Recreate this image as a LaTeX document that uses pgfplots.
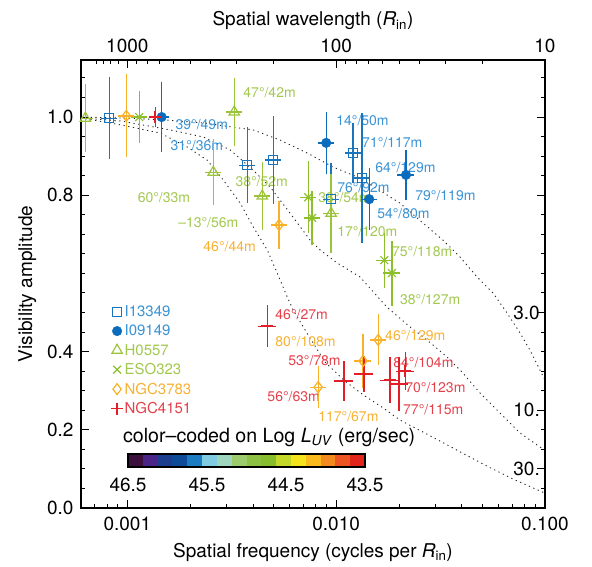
\documentclass[border=0pt]{standalone}
\usepackage{fontspec}
\setmainfont{TeX Gyre Heros}
\usepackage{pgfplots}
\pgfplotsset{compat=1.18}

\definecolor{cI}{HTML}{1B75BC}
\definecolor{cII}{HTML}{0B6CBE}
\definecolor{cH}{HTML}{9CC43B}
\definecolor{cE}{HTML}{8CBF2A}
\definecolor{cN}{HTML}{F8B128}
\definecolor{cR}{HTML}{E41E26}
\definecolor{lB}{HTML}{3A93D5}
\definecolor{lG}{HTML}{A2C84F}
\definecolor{lN}{HTML}{F8B133}
\definecolor{lR}{HTML}{E5404A}
\definecolor{cb1}{HTML}{3C0F3C}
\definecolor{cb2}{HTML}{4A2486}
\definecolor{cb3}{HTML}{1B3F8E}
\definecolor{cb4}{HTML}{0D4A98}
\definecolor{cb5}{HTML}{1C7CC2}
\definecolor{cb6}{HTML}{7FCBE2}
\definecolor{cb7}{HTML}{9FD5BC}
\definecolor{cb8}{HTML}{9CCB6E}
\definecolor{cb9}{HTML}{8DC144}
\definecolor{cb10}{HTML}{86BD2D}
\definecolor{cb11}{HTML}{C4D82A}
\definecolor{cb12}{HTML}{F5E31C}
\definecolor{cb13}{HTML}{F9BA1E}
\definecolor{cb14}{HTML}{F38A1F}
\definecolor{cb15}{HTML}{EB5623}
\definecolor{cb16}{HTML}{E1251D}

\newcommand{\bigf}{\fontsize{19}{21}\selectfont}
\newcommand{\lab}{\fontsize{14}{15}\selectfont}

\pgfplotsset{
  errs/.style={error bars/.cd, x dir=both, x explicit relative,
    y dir=both, y explicit, error mark=none,
    error bar style={line width=1.3pt}},
  model/.style={forget plot, no marks, black!85, line width=0.9pt,
    dash pattern=on 1.2pt off 3.6pt},
}

\begin{document}
\begin{tikzpicture}
\begin{axis}[
  name=main,
  scale only axis, width=464pt, height=448pt,
  xmode=log, xmin=6e-4, xmax=0.1, ymin=0, ymax=1.146,
  xtick={0.001,0.01,0.1}, xticklabels={0.001,0.010,0.100},
  minor xtick={0.0007,0.0008,0.0009,0.002,0.003,0.004,0.005,0.006,0.007,0.008,0.009,
    0.02,0.03,0.04,0.05,0.06,0.07,0.08,0.09},
  ytick={0,0.2,0.4,0.8,1.0}, yticklabels={0.0,0.2,0.4,0.8,1.0},
  minor ytick={0.05,0.1,0.15,0.25,0.3,0.35,0.45,0.5,0.55,0.6,0.65,0.7,0.75,0.85,0.9,0.95,1.05,1.1},
  xtick pos=left, ytick pos=left, tick align=inside,
  major tick length=8pt, minor tick length=4pt,
  every tick/.style={black, line width=1pt},
  axis line style={line width=1.2pt},
  ticklabel style={font=\bigf},
  xticklabel style={yshift=-5pt},
  yticklabel style={xshift=-4pt},
  xlabel={Spatial frequency (cycles per \textit{R}\textsubscript{in})},
  ylabel={Visibility amplitude},
  label style={font=\bigf},
  xlabel style={yshift=-6pt},
  ylabel style={yshift=4pt},
  legend style={at={(0.058,0.46)}, anchor=north west, draw=none, fill=none,
    font=\fontsize{15}{16}\selectfont, row sep=3.8pt,
    nodes={inner sep=1.5pt}},
  legend cell align=left,
]
% model curves
\addplot[model] coordinates {(0.0006,1.0) (0.00103,0.997) (0.00149,0.993) (0.00231,0.985)
  (0.00401,0.967) (0.0054,0.941) (0.00727,0.908) (0.00968,0.872) (0.013,0.844) (0.0202,0.78)
  (0.0325,0.685) (0.0392,0.642) (0.0473,0.591) (0.0564,0.55) (0.0658,0.499) (0.0759,0.448)
  (0.0847,0.404) (0.1,0.327)};
\addplot[model] coordinates {(0.0006,0.998) (0.00093,0.99) (0.00161,0.967) (0.00231,0.949)
  (0.00311,0.916) (0.00401,0.864) (0.00483,0.821) (0.00602,0.754) (0.00751,0.685) (0.00838,0.66)
  (0.0101,0.627) (0.013,0.591) (0.0175,0.514) (0.0226,0.463) (0.0272,0.43) (0.034,0.386)
  (0.0405,0.345) (0.0489,0.294) (0.0609,0.243) (0.0759,0.192) (0.0946,0.156) (0.1,0.148)};
\addplot[model] coordinates {(0.0006,0.998) (0.00093,0.98) (0.00144,0.959) (0.00194,0.923)
  (0.00241,0.89) (0.00288,0.839) (0.00347,0.78) (0.00401,0.719) (0.00468,0.66) (0.00522,0.601)
  (0.00583,0.54) (0.00623,0.506) (0.00711,0.455) (0.00885,0.373) (0.011,0.325) (0.0135,0.289)
  (0.0168,0.256) (0.0202,0.225) (0.0272,0.189) (0.0379,0.148) (0.0528,0.107) (0.0703,0.074)
  (0.1,0.038)};

% baseline labels
\begin{scope}[every node/.style={anchor=west, inner sep=0pt, font=\lab}]
\node[lB] at (axis cs:0.0017,0.98) {39°/49m};
\node[lB] at (axis cs:0.00161,0.926) {31°/36m};
\node[lB] at (axis cs:0.01,0.992) {14°/50m};
\node[lB] at (axis cs:0.0133,0.934) {71°/117m};
\node[lB] at (axis cs:0.01538,0.872) {64°/129m};
\node[lB] at (axis cs:0.0101,0.821) {76°/92m};
\node[lB] at (axis cs:0.0239,0.8) {79°/119m};
\node[lB] at (axis cs:0.0157,0.754) {54°/80m};
\node[lG] at (axis cs:0.00359,1.064) {47°/42m};
\node[lG] at (axis cs:0.00112,0.795) {60°/33m};
\node[lG] at (axis cs:0.00175,0.731) {–13°/56m};
\node[lG] at (axis cs:0.00329,0.834) {38°/52m};
\node[lG] at (axis cs:0.0082,0.793) {38°/54m};
\node[lG] at (axis cs:0.0101,0.706) {17°/120m};
\node[lG] at (axis cs:0.0185,0.657) {75°/118m};
\node[lG] at (axis cs:0.0202,0.532) {38°/127m};
\node[lN] at (axis cs:0.00231,0.668) {46°/44m};
\node[lN] at (axis cs:0.00511,0.425) {80°/108m};
\node[lN] at (axis cs:0.01714,0.442) {46°/129m};
\node[lN] at (axis cs:0.0082,0.233) {117°/67m};
\node[lR] at (axis cs:0.00511,0.494) {46°/27m};
\node[lR] at (axis cs:0.00589,0.376) {53°/78m};
\node[lR] at (axis cs:0.00468,0.284) {56°/63m};
\node[lR] at (axis cs:0.01875,0.373) {84°/104m};
\node[lR] at (axis cs:0.0214,0.307) {70°/123m};
\node[lR] at (axis cs:0.0209,0.253) {77°/115m};
\end{scope}

% data
\addplot[only marks, cI, mark=square, mark size=4.5pt, mark options={line width=1.2pt}, errs]
  coordinates {(0.00082,0.997) +- (0.09,0.105) (0.00375,0.877) +- (0.09,0.097)
  (0.005,0.89) +- (0.09,0.113) (0.00946,0.79) +- (0.09,0.092)
  (0.01205,0.908) +- (0.09,0.077) (0.0133,0.844) +- (0.09,0.166)};
\addlegendentry{\textcolor{lB}{I13349}}
\addplot[only marks, cII, mark=*, mark size=4.8pt, errs]
  coordinates {(0.00146,1.0) +- (0.09,0.09) (0.00896,0.934) +- (0.09,0.08)
  (0.0144,0.79) +- (0.09,0.08) (0.0216,0.852) +- (0.09,0.064)};
\addlegendentry{\textcolor{lB}{I09149}}
\addplot[only marks, cH, mark=triangle, mark size=6pt, mark options={line width=1.2pt}, errs]
  coordinates {(0.00063,0.997) +- (0.09,0.087) (0.00258,0.859) +- (0.09,0.085)
  (0.00325,1.013) +- (0.09,0.086) (0.00443,0.798) +- (0.09,0.088)
  (0.00946,0.754) +- (0.09,0.101)};
\addlegendentry{\textcolor{lG}{H0557}}
\addplot[only marks, cE, mark=x, mark size=5.5pt, mark options={line width=1.2pt}, errs]
  coordinates {(0.00114,1.0) +- (0.09,0.067) (0.00735,0.795) +- (0.09,0.092)
  (0.00767,0.742) +- (0.09,0.07) (0.017,0.634) +- (0.09,0.07)
  (0.0185,0.601) +- (0.09,0.083)};
\addlegendentry{\textcolor{lG}{ESO323}}
\addplot[only marks, cN, mark=diamond, mark size=5.5pt, mark options={line width=1.2pt}, errs]
  coordinates {(0.000989,1.003) +- (0.09,0.106) (0.00533,0.724) +- (0.09,0.062)
  (0.0159,0.43) +- (0.09,0.065) (0.01345,0.376) +- (0.09,0.07)
  (0.0082,0.309) +- (0.09,0.054)};
\addlegendentry{\textcolor{lN}{NGC3783}}
\addplot[only marks, cR, mark=+, mark size=6pt, mark options={line width=1.5pt}, errs]
  coordinates {(0.00136,1.0) +- (0.06,0.025) (0.00468,0.465) +- (0.1,0.054)
  (0.01091,0.325) +- (0.1,0.052) (0.0136,0.343) +- (0.1,0.045)
  (0.0181,0.327) +- (0.1,0.058) (0.02,0.317) +- (0.1,0.068)
  (0.0214,0.35) +- (0.1,0.049)};
\addlegendentry{\textcolor{lR}{NGC4151}}

% right-hand scale labels
\node[anchor=east, font=\bigf, inner sep=0pt, xshift=-5pt] at (axis cs:0.1,0.5) {3.0};
\node[anchor=east, font=\bigf, inner sep=0pt, xshift=-5pt] at (axis cs:0.1,0.25) {10.};
\node[anchor=east, font=\bigf, inner sep=0pt, xshift=-5pt] at (axis cs:0.1,0.1) {30.};
\end{axis}

\begin{axis}[
  scale only axis, width=464pt, height=448pt,
  xmode=log, xmin=6e-4, xmax=0.1, ymin=0, ymax=1.146,
  axis x line*=top, axis y line*=right, tick align=inside,
  xtick={0.001,0.01,0.1}, xticklabels={1000,100,10},
  minor xtick={0.000714,0.000769,0.000833,0.000909,0.001111,0.00125,0.001429,0.001667,
    0.002,0.0025,0.003333,0.005,0.01111,0.0125,0.01429,0.01667,0.02,0.025,0.03333,0.05},
  ytick={0.1,0.25,0.5,0.8,1.0}, yticklabels={\empty,\empty,\empty,\empty,\empty},
  minor ytick={0.05,0.15,0.2,0.3,0.35,0.4,0.45,0.55,0.6,0.65,0.7,0.75,0.85,0.9,0.95,1.05,1.1},
  major tick length=8pt, minor tick length=4pt,
  every tick/.style={black, line width=1pt},
  axis line style={line width=1.2pt},
  ticklabel style={font=\bigf},
  xticklabel style={yshift=4pt},
  xlabel={Spatial wavelength (\textit{R}\textsubscript{in})},
  label style={font=\bigf},
  xlabel style={yshift=2pt},
]
\addplot[draw=none, forget plot] coordinates {(0.001,0.5)};
\end{axis}

% colour bar
\begin{scope}[shift={(main.south west)}, x=1pt, y=1pt]
\foreach \c [count=\i from 0] in {cb1,cb2,cb3,cb4,cb5,cb6,cb7,cb8,cb9,cb10,cb11,cb12,cb13,cb14,cb15,cb16}
  \fill[\c] ({47+\i*14.8125},41) rectangle ({47+(\i+1)*14.8125},54);
\draw[line width=1.3pt] (47,41) rectangle (284,54);
\node[anchor=west, inner sep=0pt, font=\fontsize{19.6}{21}\selectfont] at (42,71)
  {color–coded on Log \textit{L}\textsubscript{\textit{UV}} (erg/sec)};
\foreach \x/\t in {47/46.5,126/45.5,205/44.5,284/43.5}
  \node[font=\bigf, inner sep=0pt] at (\x,23) {\t};
\end{scope}

\path ([xshift=-81pt,yshift=-58pt]main.south west) rectangle ([xshift=47pt,yshift=60pt]main.north east);
\end{tikzpicture}
\end{document}
